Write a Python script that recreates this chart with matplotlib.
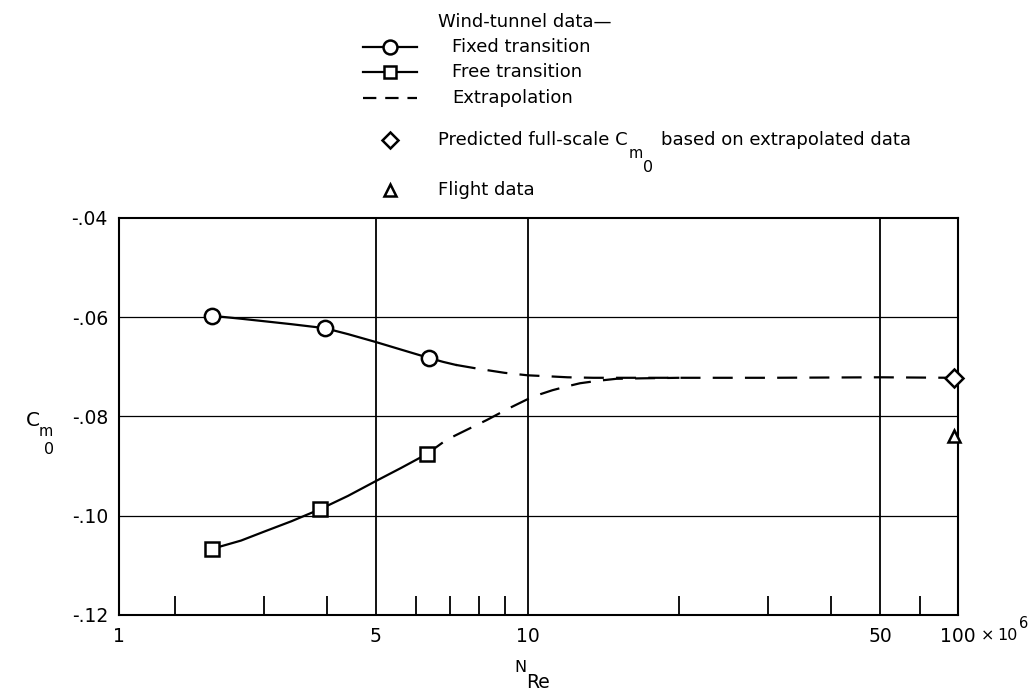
import matplotlib
matplotlib.use("Agg")
import matplotlib.pyplot as plt
from matplotlib.ticker import FixedLocator, FixedFormatter, NullFormatter

# ---------------- data ----------------
# Reynolds number (x 10^6) on a log graph paper; left edge is labelled "1",
# right edge is labelled "100"
XMIN, XMAX = 1.546, 71.4
major_ticks = [XMIN, 5, 10, 50, XMAX]
major_labels = ["1", "5", "10", "50", "100"]
minor_ticks = [2, 3, 4, 6, 7, 8, 9, 20, 30, 40, 60]
y_ticks = [-0.12, -0.10, -0.08, -0.06, -0.04]
y_labels = ["-.12", "-.10", "-.08", "-.06", "-.04"]

fixed_x = [2.36, 3.96, 6.37]
fixed_y = [-0.0597, -0.0622, -0.0682]
free_x = [2.36, 3.87, 6.30]
free_y = [-0.1067, -0.0987, -0.0876]

# faired curves through the wind-tunnel data
fixed_fair_x = [2.36, 2.7, 3.0, 3.4, 3.96, 4.4, 5.0, 5.6, 6.37, 6.8, 7.2]
fixed_fair_y = [-0.0597, -0.0603, -0.0608, -0.0614, -0.0622, -0.0634, -0.0650, -0.0665, -0.0682, -0.0690, -0.0696]
free_fair_x = [2.36, 2.7, 3.0, 3.4, 3.87, 4.4, 5.0, 5.6, 6.30]
free_fair_y = [-0.1067, -0.1050, -0.1032, -0.1011, -0.0987, -0.0960, -0.0930, -0.0904, -0.0876]

# extrapolations (dashed)
fixed_ext_x = [7.2, 8.0, 9.0, 10.0, 11.0, 12.0, 13.5, 15.0, 20.0, 30.0, 50.0, 70.0]
fixed_ext_y = [-0.0696, -0.0704, -0.0712, -0.0717, -0.0719, -0.0721, -0.0722, -0.0722, -0.0722, -0.0722, -0.0721, -0.0722]
free_ext_x = [6.30, 6.9, 7.6, 8.3, 9.2, 10.0, 10.6, 11.2, 12.0, 12.7, 13.8, 15.0, 17.0, 20.0]
free_ext_y = [-0.0876, -0.0847, -0.0826, -0.0807, -0.0783, -0.0765, -0.0755, -0.0747, -0.0739, -0.0733, -0.0728, -0.0724, -0.0723, -0.0722]

predicted_x, predicted_y = [70.0], [-0.0722]
flight_x, flight_y = [70.0], [-0.0840]

# ---------------- styling ----------------
FS_TICK = 13.5
FS_LEG = 13
FS_SUB = 11.5
FONT = dict(family="DejaVu Sans")
LW = 1.6
DASH = (9.0, 5.5)

fig = plt.figure(figsize=(10.33, 6.97), dpi=100)
W, H = 1033, 697
renderer = fig.canvas.get_renderer()

# overlay axes in pixel coordinates for legend / labels
lax = fig.add_axes([0, 0, 1, 1], zorder=0)
lax.set_xlim(0, W)
lax.set_ylim(H, 0)
lax.axis("off")


def chain(x, parts):
    """Write text pieces one after another; parts = (text, y, size, gap)."""
    for txt, y, size, gap in parts:
        t = lax.text(x + gap, y, txt, fontsize=size, ha="left", va="center", **FONT)
        x = t.get_window_extent(renderer=renderer).x1
    return x


ax = fig.add_axes([119 / W, 1 - 615 / H, (958 - 119) / W, (615 - 218) / H], zorder=1)
ax.set_facecolor("none")
ax.set_xscale("log")
ax.set_xlim(XMIN, XMAX)
ax.set_ylim(-0.12, -0.04)

for s in ax.spines.values():
    s.set_linewidth(1.5)

ax.xaxis.set_major_locator(FixedLocator(major_ticks))
ax.xaxis.set_major_formatter(FixedFormatter(major_labels))
ax.xaxis.set_minor_locator(FixedLocator(minor_ticks))
ax.xaxis.set_minor_formatter(NullFormatter())
ax.tick_params(axis="x", which="major", length=0, pad=9, labelsize=FS_TICK)
ax.tick_params(axis="x", which="minor", direction="in", length=14, width=1.3)
ax.yaxis.set_major_locator(FixedLocator(y_ticks))
ax.yaxis.set_major_formatter(FixedFormatter(y_labels))
ax.tick_params(axis="y", length=0, pad=8, labelsize=FS_TICK)

# graph-paper grid lines
for xv in [5, 10, 50]:
    ax.axvline(xv, color="black", lw=1.3, zorder=1)
for yv in [-0.06, -0.08, -0.10]:
    ax.axhline(yv, color="black", lw=0.9, zorder=1)

# curves
ax.plot(fixed_fair_x, fixed_fair_y, color="black", lw=LW, zorder=2)
ax.plot(free_fair_x, free_fair_y, color="black", lw=LW, zorder=2)
ax.plot(fixed_ext_x, fixed_ext_y, color="black", lw=LW, dashes=DASH, zorder=2)
ax.plot(free_ext_x, free_ext_y, color="black", lw=LW, dashes=DASH, zorder=2)

mk = dict(color="black", mfc="white", mec="black", mew=1.8, linestyle="none", zorder=3, clip_on=False)
ax.plot(fixed_x, fixed_y, marker="o", ms=11, **mk)
ax.plot(free_x, free_y, marker="s", ms=10, **mk)
ax.plot(predicted_x, predicted_y, marker="D", ms=9, **mk)
ax.plot(flight_x, flight_y, marker="^", ms=9, **mk)

# "× 10^6" after the last tick label
chain(981, [("\u00d7", 636, 11.5, 0), ("10", 636, 11.5, 3), ("6", 623, 10.5, 1)])

# axis titles (N_Re, C_m0)
chain(514, [("N", 668, FS_SUB, 0), ("Re", 683, FS_TICK, 0)])
lax.text(33, 420, "C", fontsize=FS_TICK + 1, ha="center", va="center", **FONT)
lax.text(46, 432, "m", fontsize=FS_SUB - 1, ha="center", va="center", **FONT)
lax.text(49, 449, "0", fontsize=FS_SUB, ha="center", va="center", **FONT)

# legend (drawn by hand, as in the reference)
lk = dict(color="black", mfc="white", mec="black", mew=1.8, lw=LW)
mko = {k: v for k, v in lk.items() if k != "lw"}
lax.text(438, 22, "Wind-tunnel data\u2014", fontsize=FS_LEG, ha="left", va="center", **FONT)
lax.plot([363, 417], [47, 47], **lk)
lax.plot([390], [47], marker="o", ms=10, **lk)
lax.text(452, 47, "Fixed transition", fontsize=FS_LEG, ha="left", va="center", **FONT)
lax.plot([363, 417], [72, 72], **lk)
lax.plot([390], [72], marker="s", ms=9, **lk)
lax.text(452, 72, "Free transition", fontsize=FS_LEG, ha="left", va="center", **FONT)
lax.plot([363, 417], [98, 98], color="black", lw=LW, dashes=(6, 4))
lax.text(452, 98, "Extrapolation", fontsize=FS_LEG, ha="left", va="center", **FONT)
lax.plot([390], [140], marker="D", ms=8.5, linestyle="none", **mko)
chain(438, [("Predicted full-scale C", 140, FS_LEG, 0),
            ("m", 153, FS_SUB - 1, 1),
            ("0", 167, FS_SUB, 0),
            ("based on extrapolated data", 140, FS_LEG, 8)])
lax.plot([390], [190], marker="^", ms=8.5, linestyle="none", **mko)
lax.text(438, 190, "Flight data", fontsize=FS_LEG, ha="left", va="center", **FONT)

fig.savefig("out.png", dpi=100, facecolor="white")
